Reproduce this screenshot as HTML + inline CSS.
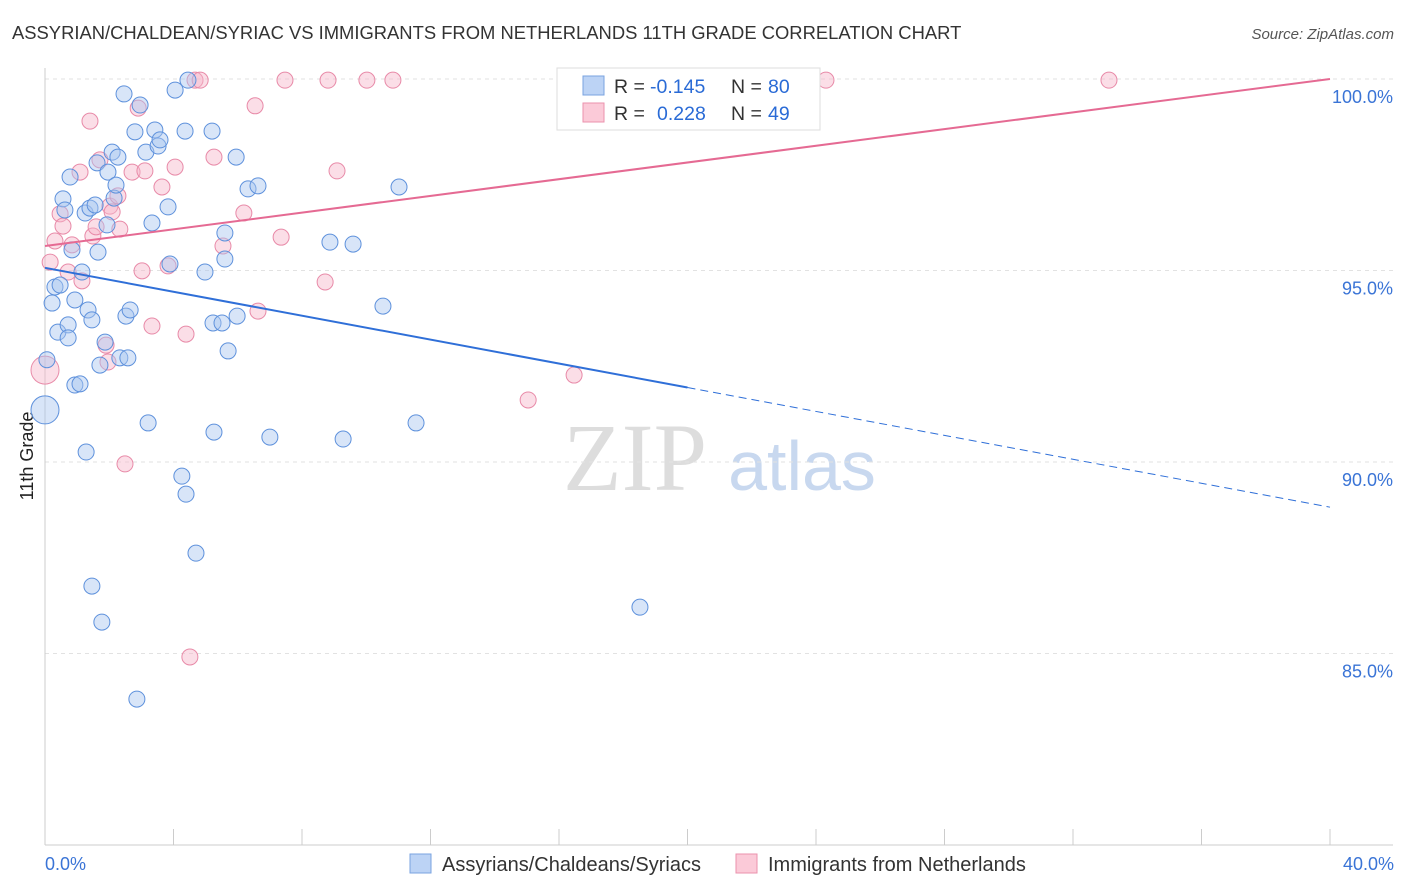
<!DOCTYPE html>
<html><head><meta charset="utf-8">
<style>
body{margin:0;background:#fff;font-family:"Liberation Sans",sans-serif;}
#wrap{position:relative;width:1406px;height:892px;overflow:hidden;}
</style></head>
<body>
<div id="wrap">
<svg id="chart" width="1406" height="892">
<text x="12" y="39" font-size="18.4" fill="#333">ASSYRIAN/CHALDEAN/SYRIAC VS IMMIGRANTS FROM NETHERLANDS 11TH GRADE CORRELATION CHART</text>
<text x="1394" y="39" font-size="15" fill="#555" font-style="italic" text-anchor="end">Source: ZipAtlas.com</text>
<text x="0" y="0" transform="translate(33,456) rotate(-90)" font-size="18" fill="#222" text-anchor="middle">11th Grade</text>
<g>
<text x="635" y="490" font-size="96" font-family="Liberation Serif,serif" fill="#ddd" text-anchor="middle">ZIP</text>
<text x="802" y="490" font-size="70" fill="#c8d8ef" text-anchor="middle">atlas</text>
</g>
<g id="grid"></g>
<g id="axes"></g>
<g id="marks"></g>
<g>
<rect x="557" y="68" width="263" height="62" fill="#fff" stroke="#ddd"/>
<rect x="583" y="76" width="21" height="19" fill="#bcd3f5" stroke="#7aa3e0"/>
<rect x="583" y="103" width="21" height="19" fill="#fbcad8" stroke="#eb92ad"/>
<text x="614" y="93" font-size="19.5" fill="#333">R =</text>
<text x="650" y="93" font-size="19.5" fill="#2a6bd6">-0.145</text>
<text x="731" y="93" font-size="19.5" fill="#333">N =</text>
<text x="768" y="93" font-size="19.5" fill="#2a6bd6">80</text>
<text x="614" y="120" font-size="19.5" fill="#333">R =</text>
<text x="657" y="120" font-size="19.5" fill="#2a6bd6">0.228</text>
<text x="731" y="120" font-size="19.5" fill="#333">N =</text>
<text x="768" y="120" font-size="19.5" fill="#2a6bd6">49</text>
</g>
<g>
<rect x="410" y="854" width="21" height="19" fill="#bcd3f5" stroke="#7aa3e0"/>
<text x="442" y="871" font-size="20" fill="#333">Assyrians/Chaldeans/Syriacs</text>
<rect x="736" y="854" width="21" height="19" fill="#fbcad8" stroke="#eb92ad"/>
<text x="768" y="871" font-size="20" fill="#333">Immigrants from Netherlands</text>
</g>
</svg>
</div>
<script>
const blueX=[0,0.06,0.22,0.31,0.40,0.47,0.56,0.62,0.72,0.72,0.78,0.84,0.93,0.93,1.09,1.15,1.25,1.28,1.34,1.40,1.46,1.46,1.56,1.62,1.65,1.71,1.77,1.87,1.93,1.96,2.09,2.15,2.21,2.27,2.33,2.46,2.52,2.58,2.65,2.80,2.86,2.96,3.14,3.21,3.33,3.42,3.52,3.58,3.83,3.89,4.05,4.26,4.36,4.39,4.45,4.70,4.98,5.20,5.23,5.26,5.51,5.60,5.60,5.70,5.95,5.98,6.32,6.63,7.00,8.87,9.28,9.59,10.52,11.02,11.55,18.52];
const blueY=[91.36,92.67,94.15,94.57,93.39,94.62,96.87,96.58,93.58,93.24,97.44,95.54,94.23,92.01,92.04,94.96,96.50,90.26,93.97,96.63,93.71,86.76,96.71,97.81,95.48,92.53,85.82,93.13,96.19,97.57,98.09,96.89,97.23,97.96,92.72,99.61,93.81,92.72,93.97,98.62,83.81,99.32,98.09,91.02,96.24,98.67,98.25,98.41,96.66,95.17,99.71,89.63,98.64,89.16,99.97,87.62,94.96,98.64,93.63,90.78,93.63,95.98,95.30,92.90,97.96,93.81,97.13,97.21,90.65,95.74,90.60,95.69,94.07,97.18,91.02,86.21];
const pinkX=[0,0.16,0.31,0.47,0.56,0.72,0.84,1.09,1.15,1.40,1.49,1.59,1.71,1.90,1.96,2.02,2.09,2.27,2.33,2.49,2.71,2.90,3.02,3.11,3.33,3.64,3.83,4.05,4.39,4.51,4.67,4.83,5.26,5.54,6.19,6.54,6.63,7.35,7.47,8.72,8.81,9.09,10.02,10.83,15.04,16.47,24.31,33.12];
const pinkY=[92.40,95.22,95.77,96.48,96.16,94.96,95.67,97.57,94.73,98.90,95.90,96.14,97.89,93.05,92.61,96.68,96.53,96.95,96.08,89.95,97.57,99.24,94.99,97.60,93.55,97.18,95.12,97.70,93.34,84.91,99.97,99.97,97.96,95.64,96.50,99.30,93.94,95.87,99.97,94.70,99.97,97.60,99.97,99.97,91.62,92.27,99.97,99.97];
const yTicks=[100,95,90,85];
const yTickLabels=["100.0%","95.0%","90.0%","85.0%"];
const blueTrend=[95.07,88.82];
const pinkTrend=[95.64,100.0];
const NS="http://www.w3.org/2000/svg";
const X0=45,X1=1330,Y100=79,PX_PER=38.3;
function sx(v){return X0+(X1-X0)*v/40;}
function sy(v){return Y100+(100-v)*PX_PER;}
function mk(tag,attrs,parent){const e=document.createElementNS(NS,tag);for(const k in attrs)e.setAttribute(k,attrs[k]);parent.appendChild(e);return e;}
const grid=document.getElementById('grid'),axes=document.getElementById('axes'),marks=document.getElementById('marks');
yTicks.forEach((t,i)=>{
  const l=mk('line',{x1:X0,x2:1393,y1:sy(t),y2:sy(t),stroke:'#e2e2e2','stroke-dasharray':'4,4'},grid);
  
  
  const tx=mk('text',{x:1393,y:sy(t)+24,'font-size':18,fill:'#3a74d6','text-anchor':'end'},axes);
  tx.textContent=yTickLabels[i];
  
  
});
const ya=mk('line',{x1:X0,x2:X0,y1:68,y2:845,stroke:'#ccc'},axes);


const xa=mk('line',{x1:X0,x2:1393,y1:845,y2:845,stroke:'#ccc'},axes);


for(let i=0;i<=10;i++){
  const t=mk('line',{x1:sx(i*4),x2:sx(i*4),y1:829,y2:845,stroke:'#ccc'},axes);
  
  
}
const xl0=mk('text',{x:45,y:870,'font-size':18,fill:'#3a74d6'},axes);xl0.textContent='0.0%';


const xl1=mk('text',{x:1394,y:870,'font-size':18,fill:'#3a74d6','text-anchor':'end'},axes);xl1.textContent='40.0%';


function dots(xs,ys,fill,stroke,name){
  xs.forEach((x,i)=>{
    const r=(x===0)?14:8;
    const c=mk('circle',{cx:sx(x),cy:sy(ys[i]),r:r,fill:fill,'fill-opacity':0.45,stroke:stroke,'stroke-width':1},marks);
    
    
  });
}
dots(pinkX,pinkY,'#f7b6c9','#e88aa8','point-netherlands');
dots(blueX,blueY,'#a9c6f0','#5e91dc','point-assyrians');
function lerp(a,x){return a[0]+(a[1]-a[0])*x/40;}
const bl=mk('line',{x1:sx(0),y1:sy(blueTrend[0]),x2:sx(20),y2:sy(lerp(blueTrend,20)),stroke:'#2f6fd8','stroke-width':2},marks);


const bd=mk('line',{x1:sx(20),y1:sy(lerp(blueTrend,20)),x2:sx(40),y2:sy(blueTrend[1]),stroke:'#2f6fd8','stroke-width':1,'stroke-dasharray':'8,5'},marks);


const pl=mk('line',{x1:sx(0),y1:sy(pinkTrend[0]),x2:sx(40),y2:sy(pinkTrend[1]),stroke:'#e56a93','stroke-width':2},marks);


</script>
</body></html>
